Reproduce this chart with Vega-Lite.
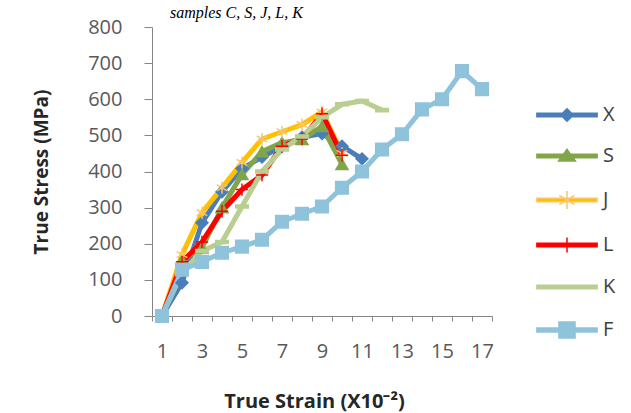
{
  "$schema": "https://vega.github.io/schema/vega-lite/v6.json",
  "width": 340,
  "height": 289,
  "autosize": "none",
  "padding": {"left": 152, "top": 27, "right": 139, "bottom": 97},
  "background": "white",
  "config": {"view": {"stroke": null}, "font": "Open Sans"},
  "title": {"text": "samples C, S, J, L, K", "font": "Liberation Serif", "fontStyle": "italic", "fontWeight": "normal", "fontSize": 16, "anchor": "start", "frame": "group", "baseline": "bottom", "offset": -20, "dx": 18, "color": "#000000"},
  "data": {"values": [
    {"series": "X", "strain": 1, "stress": 0}, {"series": "X", "strain": 2, "stress": 92}, {"series": "X", "strain": 3, "stress": 258}, {"series": "X", "strain": 4, "stress": 344}, {"series": "X", "strain": 5, "stress": 408}, {"series": "X", "strain": 6, "stress": 440}, {"series": "X", "strain": 7, "stress": 470}, {"series": "X", "strain": 8, "stress": 495}, {"series": "X", "strain": 9, "stress": 505}, {"series": "X", "strain": 10, "stress": 470}, {"series": "X", "strain": 11, "stress": 435},
    {"series": "S", "strain": 1, "stress": 0}, {"series": "S", "strain": 2, "stress": 155}, {"series": "S", "strain": 3, "stress": 189}, {"series": "S", "strain": 4, "stress": 300}, {"series": "S", "strain": 5, "stress": 392}, {"series": "S", "strain": 6, "stress": 455}, {"series": "S", "strain": 7, "stress": 480}, {"series": "S", "strain": 8, "stress": 489}, {"series": "S", "strain": 9, "stress": 525}, {"series": "S", "strain": 10, "stress": 420},
    {"series": "J", "strain": 1, "stress": 0}, {"series": "J", "strain": 2, "stress": 170}, {"series": "J", "strain": 3, "stress": 286}, {"series": "J", "strain": 4, "stress": 355}, {"series": "J", "strain": 5, "stress": 425}, {"series": "J", "strain": 6, "stress": 490}, {"series": "J", "strain": 7, "stress": 510}, {"series": "J", "strain": 8, "stress": 530}, {"series": "J", "strain": 9, "stress": 565}, {"series": "J", "strain": 10, "stress": 450},
    {"series": "L", "strain": 1, "stress": 0}, {"series": "L", "strain": 2, "stress": 150}, {"series": "L", "strain": 3, "stress": 205}, {"series": "L", "strain": 4, "stress": 290}, {"series": "L", "strain": 5, "stress": 350}, {"series": "L", "strain": 6, "stress": 390}, {"series": "L", "strain": 7, "stress": 470}, {"series": "L", "strain": 8, "stress": 490}, {"series": "L", "strain": 9, "stress": 560}, {"series": "L", "strain": 10, "stress": 445},
    {"series": "K", "strain": 1, "stress": 0}, {"series": "K", "strain": 2, "stress": 120}, {"series": "K", "strain": 3, "stress": 180}, {"series": "K", "strain": 4, "stress": 205}, {"series": "K", "strain": 5, "stress": 303}, {"series": "K", "strain": 6, "stress": 400}, {"series": "K", "strain": 7, "stress": 461}, {"series": "K", "strain": 8, "stress": 497}, {"series": "K", "strain": 9, "stress": 550}, {"series": "K", "strain": 10, "stress": 586}, {"series": "K", "strain": 11, "stress": 595}, {"series": "K", "strain": 12, "stress": 570},
    {"series": "F", "strain": 1, "stress": 0}, {"series": "F", "strain": 2, "stress": 128}, {"series": "F", "strain": 3, "stress": 150}, {"series": "F", "strain": 4, "stress": 175}, {"series": "F", "strain": 5, "stress": 192}, {"series": "F", "strain": 6, "stress": 211}, {"series": "F", "strain": 7, "stress": 261}, {"series": "F", "strain": 8, "stress": 283}, {"series": "F", "strain": 9, "stress": 303}, {"series": "F", "strain": 10, "stress": 355}, {"series": "F", "strain": 11, "stress": 400}, {"series": "F", "strain": 12, "stress": 461}, {"series": "F", "strain": 13, "stress": 503}, {"series": "F", "strain": 14, "stress": 572}, {"series": "F", "strain": 15, "stress": 600}, {"series": "F", "strain": 16, "stress": 678}, {"series": "F", "strain": 17, "stress": 628}
  ]},
  "encoding": {
    "x": {
      "field": "strain", "type": "ordinal", "bandPosition": 0.5,
      "scale": {"type": "band", "domain": [1,2,3,4,5,6,7,8,9,10,11,12,13,14,15,16,17], "paddingInner": 0, "paddingOuter": 0},
      "axis": {
        "title": "True Strain (X10⁻²)", "titleFont": "Open Sans", "titleFontWeight": "bold", "titleFontSize": 20, "titleColor": "#262626", "titlePadding": 30, "titleX": 162,
        "labelAngle": 0, "labelExpr": "datum.value % 2 == 1 ? datum.label : ''", "labelFont": "Open Sans", "labelFontSize": 20, "labelColor": "#595959", "labelPadding": 20,
        "tickBand": "extent", "tickSize": 5, "tickColor": "#868686", "domainColor": "#868686", "grid": false
      }
    },
    "y": {
      "field": "stress", "type": "quantitative",
      "scale": {"domain": [0, 800], "nice": false},
      "axis": {
        "title": "True Stress (MPa)", "titleFont": "Open Sans", "titleFontWeight": "bold", "titleFontSize": 19, "titleColor": "#262626", "titlePadding": 36,
        "values": [0,100,200,300,400,500,600,700,800], "labelFont": "Open Sans", "labelFontSize": 20, "labelColor": "#595959", "labelPadding": 22,
        "tickSize": 8, "tickColor": "#868686", "domainColor": "#868686", "grid": false
      }
    }
  },
  "layer": [
    {
      "mark": {"type": "line", "strokeWidth": 5, "strokeJoin": "round"},
      "encoding": {
        "color": {"field": "series", "type": "nominal", "legend": null,
          "scale": {"domain": ["X","S","J","L","K","F"], "range": ["#4A7EBB","#82A54A","#FFC000","#FF0000","#B9CF91","#8EC3DB"]}}
      }
    },
    {
      "mark": {"type": "point", "filled": true, "opacity": 1, "strokeWidth": 1.5},
      "encoding": {
        "color": {"field": "series", "type": "nominal", "legend": null,
          "scale": {"domain": ["X","S","J","L","K","F"], "range": ["#4A7EBB","#82A54A","#FFC000","#FF0000","#B9CF91","#8EC3DB"]}},
        "stroke": {"field": "series", "type": "nominal", "legend": null,
          "scale": {"domain": ["X","S","J","L","K","F"], "range": ["#4A7EBB","#82A54A","#F8C66A","#FF0000","#B9CF91","#8EC3DB"]}},
        "shape": {"field": "series", "type": "nominal", "legend": null,
          "scale": {"domain": ["X","S","J","L","K","F"], "range": ["diamond","triangle-up","M0,-1V1M-0.87,-0.5L0.87,0.5M-0.87,0.5L0.87,-0.5","M0,-1V1M-1,0H1","M-1,-0.25H1V0.25H-1Z","square"]}},
        "size": {"field": "series", "type": "nominal", "legend": null,
          "scale": {"domain": ["X","S","J","L","K","F"], "range": [140,160,300,220,400,440]}}
      }
    },
    {
      "mark": {"type": "point", "filled": true, "opacity": 0, "size": 196, "strokeWidth": 1.5},
      "encoding": {
        "color": {"field": "series", "type": "nominal",
          "scale": {"domain": ["X","S","J","L","K","F"], "range": ["#4A7EBB","#82A54A","#FFC000","#FF0000","#B9CF91","#8EC3DB"]},
          "legend": {"title": null, "orient": "none", "legendX": 405, "legendY": 78, "rowPadding": 21, "labelFont": "Open Sans", "labelFontSize": 20, "labelColor": "#404040", "labelOffset": 26, "symbolSize": 196, "symbolStrokeWidth": 1.5, "symbolOpacity": 1}},
        "stroke": {"field": "series", "type": "nominal",
          "scale": {"domain": ["X","S","J","L","K","F"], "range": ["#4A7EBB","#82A54A","#F8C66A","#FF0000","#B9CF91","#8EC3DB"]},
          "legend": {"title": null, "orient": "none", "legendX": 405, "legendY": 78, "rowPadding": 21, "labelFont": "Open Sans", "labelFontSize": 20, "labelColor": "#404040", "labelOffset": 26, "symbolSize": 196, "symbolStrokeWidth": 1.5, "symbolOpacity": 1}},
        "shape": {"field": "series", "type": "nominal",
          "scale": {"domain": ["X","S","J","L","K","F"], "range": [
            "M-4.3,-0.25H4.3V0.25H-4.3Z M0,-0.9L0.9,0L0,0.9L-0.9,0Z",
            "M-4.3,-0.25H4.3V0.25H-4.3Z M0,-0.95L1.2,0.7L-1.2,0.7Z",
            "M-4.3,-0.25H4.3V0.25H-4.3Z M0,-1.3V1.3M-1.1,-0.65L1.1,0.65M-1.1,0.65L1.1,-0.65",
            "M-4.3,-0.25H4.3V0.25H-4.3Z M0,-1.07V1.07",
            "M-4.3,-0.25H4.3V0.25H-4.3Z",
            "M-4.3,-0.3H4.3V0.3H-4.3Z M-1.15,-1.15H1.15V1.15H-1.15Z"
          ]},
          "legend": {"title": null, "orient": "none", "legendX": 405, "legendY": 78, "rowPadding": 21, "labelFont": "Open Sans", "labelFontSize": 20, "labelColor": "#404040", "labelOffset": 26, "symbolSize": 196, "symbolStrokeWidth": 1.5, "symbolOpacity": 1}}
      }
    }
  ],
  "resolve": {"scale": {"color": "independent", "shape": "independent", "stroke": "independent", "size": "independent"}}
}
